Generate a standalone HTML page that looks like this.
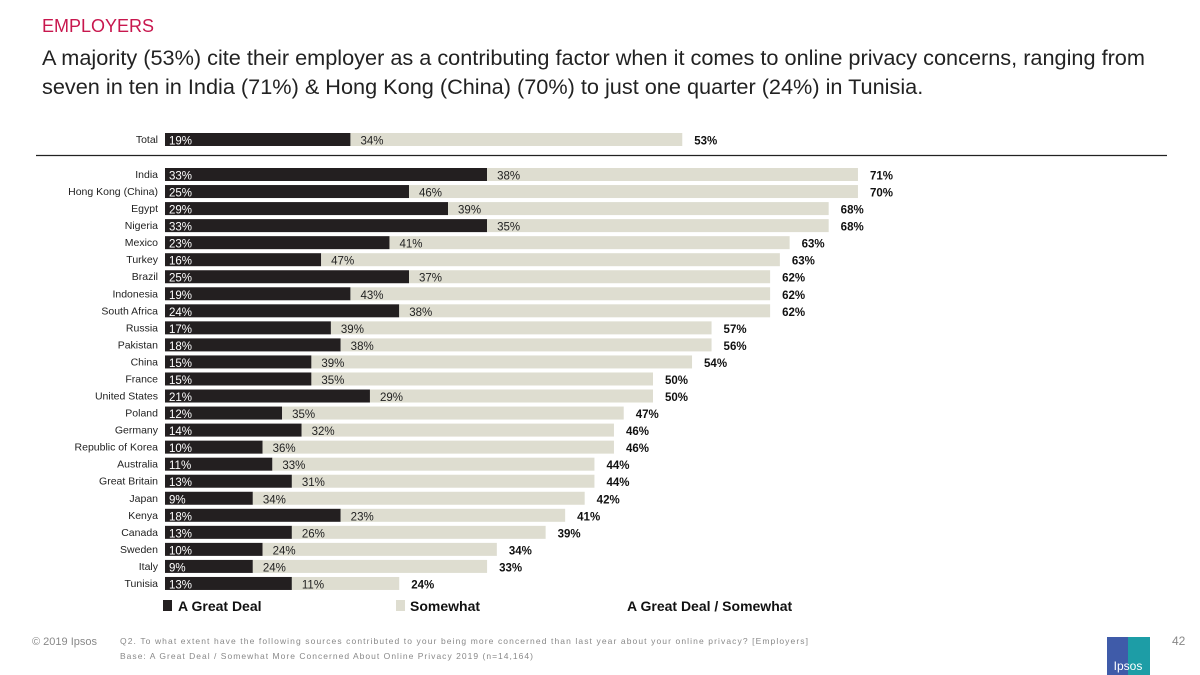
<!DOCTYPE html>
<html><head><meta charset="utf-8"><style>
body{margin:0;width:1200px;height:675px;background:#fff;font-family:"Liberation Sans",sans-serif;position:relative;overflow:hidden}
.abs{position:absolute}
</style></head><body>
<div class="abs" style="left:42px;top:16px;font-size:18px;color:#c8174e">EMPLOYERS</div>
<div class="abs" style="left:42px;top:43px;width:1150px;font-size:21.7px;line-height:29px;color:#222;white-space:nowrap">A majority (53%) cite their employer as a contributing factor when it comes to online privacy concerns, ranging from<br>seven in ten in India (71%) &amp; Hong Kong (China) (70%) to just one quarter (24%) in Tunisia.</div>
<svg class="abs" style="left:0;top:0" width="1200" height="675">
<line x1="36" x2="1167" y1="155.5" y2="155.5" stroke="#222" stroke-width="1.3"/>
<g id="g"></g>
<rect x="163" y="600" width="9" height="11" fill="#231f20"/>
<text x="178" y="611" font-size="14" font-weight="bold" fill="#111">A Great Deal</text>
<rect x="396" y="600" width="9" height="11" fill="#deddd0"/>
<text x="410" y="611" font-size="14" font-weight="bold" fill="#111">Somewhat</text>
<text x="627" y="611" font-size="14" font-weight="bold" fill="#111">A Great Deal / Somewhat</text>
<text x="32" y="645" font-size="11" fill="#888">© 2019 Ipsos</text>
<text x="120" y="644" font-size="8.5" fill="#888" textLength="688">Q2. To what extent have the following sources contributed to your being more concerned than last year about your online privacy? [Employers]</text>
<text x="120" y="659" font-size="8.5" fill="#888" textLength="413">Base: A Great Deal / Somewhat More Concerned About Online Privacy 2019 (n=14,164)</text>
<g><rect x="1107" y="637" width="43" height="43" fill="#3f5ba9"/><rect x="1128" y="637" width="22" height="43" fill="#17a9a6" opacity="0.85"/><text x="1128" y="670" font-size="12" fill="#fff" text-anchor="middle">Ipsos</text></g>
<text x="1172" y="645" font-size="12" fill="#888">42</text>
</svg>
<script>
const categories=["Total","India","Hong Kong (China)","Egypt","Nigeria","Mexico","Turkey","Brazil","Indonesia","South Africa","Russia","Pakistan","China","France","United States","Poland","Germany","Republic of Korea","Australia","Great Britain","Japan","Kenya","Canada","Sweden","Italy","Tunisia"];
const greatDeal=[19,33,25,29,33,23,16,25,19,24,17,18,15,15,21,12,14,10,11,13,9,18,13,10,9,13];
const somewhat=[34,38,46,39,35,41,47,37,43,38,39,38,39,35,29,35,32,36,33,31,34,23,26,24,24,11];
const totals=[53,71,70,68,68,63,63,62,62,62,57,56,54,50,50,47,46,46,44,44,42,41,39,34,33,24];
const ns="http://www.w3.org/2000/svg",g=document.getElementById('g');
const x=v=>165+v*9.76;
const y=i=>i===0?133:168+(i-1)*17.04;
function mk(t,a,txt){const e=document.createElementNS(ns,t);for(const k in a)e.setAttribute(k,a[k]);if(txt!==undefined)e.textContent=txt;g.appendChild(e);return e;}
categories.forEach((c,i)=>{
 const yy=y(i),s=c.toLowerCase().replace(/[^a-z]+/g,'-').replace(/-$/,'');
 let e=mk('text',{x:158,y:yy+10,'font-size':10.5,fill:'#222','text-anchor':'end'},c);
 
 
 e=mk('rect',{x:x(0),y:yy,width:x(greatDeal[i])-x(0),height:13,fill:'#231f20'});
 
 
 e=mk('rect',{x:x(greatDeal[i]),y:yy,width:x(greatDeal[i]+somewhat[i])-x(greatDeal[i]),height:13,fill:'#deddd0'});
 
 
 e=mk('text',{x:x(0)+4,y:yy+11.5,'font-size':11.5,fill:'#fff'},greatDeal[i]+'%');
 
 
 e=mk('text',{x:x(greatDeal[i])+10,y:yy+11.5,'font-size':11.5,fill:'#222'},somewhat[i]+'%');
 
 
 e=mk('text',{x:x(greatDeal[i]+somewhat[i])+12,y:yy+11.5,'font-size':11.5,'font-weight':'bold',fill:'#111'},totals[i]+'%');
 
 
});
</script>
</body></html>
